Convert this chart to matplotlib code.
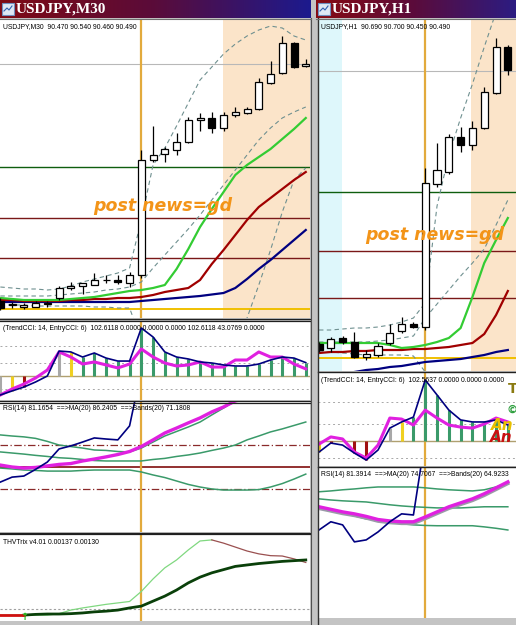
import numpy as np
import matplotlib
matplotlib.use('Agg')
import matplotlib.pyplot as plt
from matplotlib.patches import Rectangle

W, H = 516, 625

# ---------------- left window: USDJPY,M30 ----------------
m30_open = [89.546, 89.528, 89.522, 89.523, 89.535, 89.558, 89.597, 89.607, 89.610, 89.628, 89.630, 89.619, 89.650,
            90.110, 90.134, 90.150, 90.182, 90.270, 90.278, 90.238, 90.290, 90.298, 90.314, 90.418, 90.458, 90.578, 90.486]
m30_high = [89.558, 89.542, 89.539, 89.547, 89.547, 89.606, 89.623, 89.618, 89.658, 89.650, 89.650, 89.663, 90.150,
            90.246, 90.162, 90.218, 90.282, 90.298, 90.302, 90.302, 90.322, 90.322, 90.438, 90.506, 90.606, 90.582, 90.514]
m30_low = [89.510, 89.518, 89.514, 89.521, 89.523, 89.550, 89.590, 89.574, 89.608, 89.618, 89.614, 89.603, 89.638,
           90.102, 90.102, 90.130, 90.178, 90.226, 90.218, 90.226, 90.282, 90.294, 90.310, 90.414, 90.454, 90.478, 90.482]
m30_close = [89.518, 89.532, 89.530, 89.539, 89.538, 89.598, 89.607, 89.617, 89.630, 89.631, 89.623, 89.650, 90.110,
             90.130, 90.154, 90.182, 90.270, 90.279, 90.238, 90.290, 90.302, 90.314, 90.422, 90.454, 90.578, 90.482, 90.494]
m30_ma_green = [89.558, 89.554, 89.550, 89.550, 89.550, 89.550, 89.554, 89.558, 89.562, 89.570, 89.578, 89.586, 89.590,
                89.598, 89.610, 89.674, 89.754, 89.842, 89.914, 89.982, 90.050, 90.090, 90.122, 90.154, 90.194, 90.234, 90.278]
m30_ma_red = [89.550, 89.550, 89.546, 89.546, 89.546, 89.546, 89.550, 89.550, 89.554, 89.554, 89.558, 89.558, 89.562,
              89.570, 89.582, 89.590, 89.598, 89.630, 89.694, 89.750, 89.810, 89.870, 89.922, 89.958, 89.994, 90.030, 90.062]
m30_ma_navy = [89.542, 89.542, 89.542, 89.542, 89.542, 89.542, 89.542, 89.542, 89.542, 89.542, 89.542, 89.542, 89.546,
               89.550, 89.554, 89.558, 89.562, 89.566, 89.572, 89.578, 89.598, 89.634, 89.674, 89.710, 89.750, 89.790, 89.830]
m30_band_up = [89.602, 89.598, 89.594, 89.594, 89.590, 89.594, 89.606, 89.622, 89.634, 89.646, 89.658, 89.678, 89.870,
               90.090, 90.158, 90.246, 90.338, 90.430, 90.482, 90.534, 90.574, 90.606, 90.630, 90.646, 90.638, 90.606, 90.590]
m30_band_mid = [89.566, 89.566, 89.566, 89.566, 89.566, 89.570, 89.574, 89.578, 89.582, 89.590, 89.594, 89.602, 89.622,
                89.678, 89.730, 89.782, 89.834, 89.890, 89.950, 90.010, 90.070, 90.130, 90.190, 90.238, 90.278, 90.302, 90.322]
m30_band_low = [89.530, 89.530, 89.530, 89.526, 89.526, 89.526, 89.526, 89.526, 89.522, 89.522, 89.518, 89.518, 89.390,
                89.310, 89.230, 89.190, 89.170, 89.190, 89.230, 89.290, 89.370, 89.478, 89.610, 89.750, 89.902, 90.030, 90.078]
m30_levels_green = [90.082]
m30_levels_red = [89.878, 89.718]
m30_level_yellow = 89.514
m30_bid = 90.494

m30_cci_trend = [-146, -115, -85, -46, 0, 192, 185, 146, 177, 138, 115, 115, 369, 300, 185, 146, 131, 108, 100, 85,
                 77, 77, 92, 123, 146, 138, 103]
m30_cci_entry = [-146, -100, -62, -15, 46, 185, 146, 92, 108, 85, 62, 92, 208, 146, 100, 77, 85, 108, 69, 69, 123,
                 123, 185, 146, 146, 92, 55]
m30_hist_col = ['gray', 'yellow', 'red', 'none', 'none', 'gray', 'yellow'] + ['green'] * 20

m30_rsi = [43.0, 45.3, 45.8, 48.9, 52.3, 58.4, 59.8, 61.6, 63.5, 63.0, 62.6, 69.1, 95, 94, 93, 93, 94, 92, 88, 88,
           87, 86, 88, 89, 90, 85, 81.2]
m30_rsi_ma = [50.9, 50.0, 49.5, 49.8, 50.5, 51.2, 51.6, 52.8, 53.7, 54.7, 55.8, 57.2, 59.5, 62.6, 65.8, 68.1, 70.5,
              72.8, 75.6, 77.9, 80.7, 82.0, 83.0, 84.0, 85.0, 85.7, 86.2]
m30_rsi_band_a = [64.9, 64.4, 64.0, 63.3, 61.9, 60.2, 59.5, 58.8, 57.9, 57.7, 57.2, 57.0, 58.8, 61.6, 64.4, 66.5, 68.6,
                  70.9, 74.2, 77.4, 80.7, 83, 85, 87, 88, 89, 90]
m30_rsi_band_b = [57.0, 56.5, 56.0, 55.4, 54.9, 54.3, 54.0, 53.5, 53.0, 52.8, 52.8, 52.8, 52.8, 53.5, 54.0, 54.9, 55.6,
                  56.5, 57.7, 58.8, 60.2, 62.6, 64.4, 66.3, 67.7, 69.3, 70.9]
m30_rsi_band_c = [49.5, 49.1, 48.6, 48.4, 48.1, 48.1, 48.1, 48.4, 48.6, 48.6, 48.6, 48.6, 47.7, 46.3, 45.1, 43.5, 41.9,
                  40.7, 39.8, 39.3, 39.3, 39.3, 39.5, 40.7, 42.3, 44.4, 46.7]
m30_rsi_levels = [60, 50, 40]

m30_trix_main = [-0.00017, -0.00017, -0.00017, -0.00015, -0.00014, -0.00014, -0.00013, -0.00011, -0.00008, -0.00006,
                 -0.00003, 0.00003, 0.00008, 0.00022, 0.00036, 0.00053, 0.00073, 0.00089, 0.00101, 0.00110, 0.00119,
                 0.00123, 0.00127, 0.00130, 0.00133, 0.00135, 0.00137]
m30_trix_signal = [-0.00017, -0.00017, -0.00017, -0.00017, -0.00017, -0.00013, -0.00003, 0.00003, 0.00008, 0.00013,
                   0.00017, 0.00021, 0.00049, 0.00084, 0.00115, 0.00137, 0.00165, 0.00190, 0.00193, 0.00184, 0.00173,
                   0.00162, 0.00154, 0.00149, 0.00148, 0.00140, 0.00130]

# ---------------- right window: USDJPY,H1 ----------------
h1_open = [89.404, 89.388, 89.428, 89.412, 89.352, 89.360, 89.408, 89.456, 89.482, 89.472, 90.044, 90.092, 90.232,
           90.200, 90.268, 90.408, 90.592]
h1_high = [89.412, 89.432, 89.436, 89.452, 89.380, 89.408, 89.484, 89.512, 89.492, 90.108, 90.208, 90.244, 90.272,
           90.296, 90.432, 90.628, 90.600]
h1_low = [89.372, 89.372, 89.404, 89.348, 89.340, 89.352, 89.400, 89.448, 89.468, 89.460, 90.032, 90.084, 90.172,
          90.180, 90.264, 90.404, 90.480]
h1_close = [89.380, 89.424, 89.412, 89.352, 89.364, 89.396, 89.448, 89.484, 89.472, 90.048, 90.100, 90.232, 90.200,
            90.268, 90.412, 90.592, 90.500]
h1_ma_green = [89.408, 89.408, 89.408, 89.408, 89.408, 89.408, 89.400, 89.388, 89.392, 89.400, 89.412, 89.428, 89.468,
               89.592, 89.728, 89.820, 89.908]
h1_ma_red = [89.368, 89.372, 89.372, 89.376, 89.376, 89.380, 89.380, 89.380, 89.384, 89.384, 89.388, 89.392, 89.400,
             89.408, 89.444, 89.520, 89.616]
h1_ma_navy = [89.268, 89.276, 89.284, 89.292, 89.300, 89.304, 89.312, 89.316, 89.324, 89.332, 89.336, 89.340, 89.344,
              89.352, 89.360, 89.372, 89.380]
h1_band_up = [89.460, 89.460, 89.464, 89.468, 89.468, 89.472, 89.480, 89.492, 89.508, 89.568, 89.956, 90.160, 90.308,
              90.444, 90.592, 90.732, 90.860]
h1_band_mid = [89.412, 89.412, 89.412, 89.412, 89.412, 89.416, 89.420, 89.428, 89.436, 89.508, 89.564, 89.620, 89.676,
               89.728, 89.784, 89.880, 89.980]
h1_band_low = [89.372, 89.372, 89.368, 89.364, 89.360, 89.360, 89.360, 89.360, 89.356, 89.292, 89.260, 89.220, 89.200,
               89.200, 89.220, 89.240, 89.260]
h1_levels_green = [90.012]
h1_levels_red = [89.776, 89.588]
h1_level_yellow = 89.348
h1_bid = 90.496

h1_cci_trend = [-65, -12, -24, -71, -112, -53, 76, 112, 141, 359, 271, 182, 124, 112, 112, 124, 94]
h1_cci_entry = [-18, 24, 12, -65, -100, -24, 135, 129, 94, 182, 135, 94, 82, 76, 100, 135, 112]
h1_hist_col = ['yellow', 'red', 'none', 'red', 'red', 'none', 'gray', 'yellow'] + ['green'] * 9

h1_rsi = [57.7, 60.6, 59.5, 53.5, 54.2, 57.0, 60.6, 63.4, 63.0, 90, 89, 90, 86, 87, 89, 88, 81.4]
h1_rsi_ma = [65.9, 65.0, 64.1, 63.4, 62.5, 61.4, 60.9, 60.6, 60.6, 62.3, 64.1, 65.9, 67.3, 68.7, 70.5, 72.6, 74.7]
h1_rsi_band_a = [71.2, 71.5, 71.9, 72.2, 72.6, 72.9, 72.9, 72.9, 72.9, 72.6, 72.2, 71.9, 71.7, 71.5, 71.9, 72.9, 74.3]
h1_rsi_band_b = [68.7, 68.3, 68.0, 67.8, 67.6, 67.1, 66.6, 66.2, 65.9, 65.7, 65.5, 65.5, 65.5, 65.7, 65.9, 65.9, 65.9]
h1_rsi_band_c = [65.9, 64.8, 63.6, 62.7, 61.6, 61.3, 60.6, 59.9, 59.5, 59.3, 59.2, 59.2, 59.2, 59.2, 58.8, 58.3, 57.7]

NEWS_BAR_M30 = 12
NEWS_BAR_H1 = 9

COL = {'gray': '#a8a8a8', 'yellow': '#f0d020', 'red': '#a01010', 'green': '#3a9a6a', 'none': 'none'}
VLINE = '#e2aa3c'
PEACH = '#fbe4c9'

fig = plt.figure(figsize=(W / 100, H / 100), dpi=100)
fig.patch.set_facecolor('#c4c4c4')


def px_axes(x0, y0, x1, y1, z=1):
    ax = fig.add_axes([x0 / W, 1 - y1 / H, (x1 - x0) / W, (y1 - y0) / H], zorder=z)
    ax.set_xticks([])
    ax.set_yticks([])
    for s in ax.spines.values():
        s.set_visible(False)
    ax.set_facecolor('white')
    return ax


# background: title bars
bg = fig.add_axes([0, 0, 1, 1], zorder=0)
bg.set_xlim(0, W)
bg.set_ylim(H, 0)
bg.axis('off')
grad = np.linspace(0, 1, 256)[None, :]
cmap_l = matplotlib.colors.LinearSegmentedColormap.from_list('tb', ['#7e0a14', '#5a0c3a', '#1c1a8e'])
cmap_r = matplotlib.colors.LinearSegmentedColormap.from_list('tb2', ['#860a12', '#5a0c3c', '#2c1c82'])
bg.imshow(grad, cmap=cmap_l, extent=(0, 311, 18, 0), aspect='auto')
bg.imshow(grad, cmap=cmap_r, extent=(316, 516, 18, 0), aspect='auto')
bg.set_xlim(0, W)
bg.set_ylim(H, 0)
for x0 in (2, 318):
    bg.add_patch(Rectangle((x0, 3), 12, 12, facecolor='#dfe8f4', edgecolor='#7090c0', lw=0.8))
    bg.plot([x0 + 2, x0 + 5, x0 + 7, x0 + 10], [11, 8, 10, 6], color='#3060b0', lw=0.8)
bg.text(16, 9.5, 'USDJPY,M30', color='white', fontsize=11, fontweight='bold', family='Liberation Serif',
        va='center', ha='left')
bg.text(332, 9.5, 'USDJPY,H1', color='white', fontsize=11, fontweight='bold', family='Liberation Serif',
        va='center', ha='left')


def candles(ax, o, h, l, c):
    for i in range(len(o)):
        ax.vlines(i, l[i], h[i], color='black', lw=0.9, zorder=4)
        lo, hi = min(o[i], c[i]), max(o[i], c[i])
        face = 'white' if c[i] >= o[i] else 'black'
        ax.add_patch(Rectangle((i - 0.3, lo), 0.6, max(hi - lo, 0.0008), facecolor=face,
                               edgecolor='black', lw=0.9, zorder=5))


def main_chart(ax, o, h, l, c, green, red, navy, bup, bmid, blow, lv_g, lv_r, lv_y, bid, news):
    x = np.arange(len(o))
    for lv in lv_g:
        ax.axhline(lv, color='#0e5e0e', lw=1.0, zorder=1)
    for lv in lv_r:
        ax.axhline(lv, color='#7a1818', lw=1.0, zorder=1)
    ax.axhline(lv_y, color='#f0c000', lw=1.4, zorder=1)
    ax.axhline(bid, color='#b8b8b8', lw=0.8, zorder=1)
    ax.axvline(news, color=VLINE, lw=1.6, zorder=2)
    for b in (bup, bmid, blow):
        ax.plot(x, b, color='#6f9090', lw=0.8, dashes=(4, 3), zorder=3)
    ax.plot(x, navy, color='#000080', lw=1.6, zorder=3)
    ax.plot(x, red, color='#a00000', lw=1.6, zorder=3)
    ax.plot(x, green, color='#33cc33', lw=1.6, zorder=3)
    candles(ax, o, h, l, c)


def cci_panel(ax, trend, entry, cols, news, lo, hi):
    x = np.arange(len(trend))
    for lv in (230, 100, -100):
        ax.axhline(lv, color='#a8a8a8', lw=0.7, ls=(0, (2, 3)), zorder=1)
    ax.axhline(0, color='#b0a070', lw=1.0, zorder=1)
    ax.axvline(news, color=VLINE, lw=1.6, zorder=2)
    for i in x:
        if cols[i] != 'none':
            ax.vlines(i, 0, trend[i], color=COL[cols[i]], lw=2.2, zorder=3)
    ax.plot(x, entry, color='#e020e0', lw=2.2, zorder=4)
    ax.plot(x, trend, color='#000080', lw=1.2, zorder=5)
    ax.set_ylim(lo, hi)


# ---------------- left panels ----------------
ax1 = px_axes(0, 20, 310, 318)
ax1.axvspan(18.95, 30, color=PEACH, lw=0, zorder=0)
main_chart(ax1, m30_open, m30_high, m30_low, m30_close, m30_ma_green, m30_ma_red, m30_ma_navy,
           m30_band_up, m30_band_mid, m30_band_low, m30_levels_green, m30_levels_red, m30_level_yellow,
           m30_bid, NEWS_BAR_M30)
ax1.set_xlim(-0.03, 26.36)
ax1.set_ylim(89.478, 90.67)

ax2 = px_axes(0, 322, 310, 400)
cci_panel(ax2, m30_cci_trend, m30_cci_entry, m30_hist_col, NEWS_BAR_M30, -184.6, 415.4)
ax2.set_xlim(-0.03, 26.36)

ax3 = px_axes(0, 402, 310, 532)
x = np.arange(len(m30_rsi))
ax3.axhline(m30_rsi_levels[0], color='#8a2a2a', lw=0.9, dashes=(6, 2, 1, 2))
ax3.axhline(m30_rsi_levels[1], color='#8a2020', lw=1.3)
ax3.axhline(m30_rsi_levels[2], color='#8a2a2a', lw=0.9, dashes=(6, 2, 1, 2))
ax3.axvline(NEWS_BAR_M30, color=VLINE, lw=1.6)
for b in (m30_rsi_band_a, m30_rsi_band_b, m30_rsi_band_c):
    ax3.plot(x, b, color='#3a9a6a', lw=1.1)
ax3.plot(x, m30_rsi_ma, color='#e020e0', lw=2.4)
ax3.plot(x, m30_rsi, color='#000080', lw=1.2)
ax3.set_xlim(-0.03, 26.36)
ax3.set_ylim(19.8, 80.2)

ax4 = px_axes(0, 535, 310, 621)
x = np.arange(len(m30_trix_main))
ax4.axhline(0, color='#a0a0a0', lw=0.8, ls=(0, (2, 2)))
ax4.axvline(NEWS_BAR_M30, color=VLINE, lw=1.6)
peak = int(np.argmax(m30_trix_signal))
ax4.plot(x[:peak + 1], m30_trix_signal[:peak + 1], color='#80d880', lw=0.9)
ax4.plot(x[peak:], m30_trix_signal[peak:], color='#9a5050', lw=0.9)
ax4.plot(x[2:], m30_trix_main[2:], color='#0a400a', lw=2.0)
ax4.plot(x[:3], m30_trix_main[:3], color='#d01010', lw=2.0)
ax4.text(2, -0.00036, '↑', color='#20c020', fontsize=7, ha='center', va='bottom', fontweight='bold')
ax4.set_xlim(-0.03, 26.36)
ax4.set_ylim(-0.000335, 0.002067)

# ---------------- right panels ----------------
rx = (-0.085, 16.69)
ax5 = px_axes(318, 20, 516, 371)
ax5.axvspan(-1, 1.95, color='#def7fb', lw=0, zorder=0)
ax5.axvspan(12.85, 20, color=PEACH, lw=0, zorder=0)
main_chart(ax5, h1_open, h1_high, h1_low, h1_close, h1_ma_green, h1_ma_red, h1_ma_navy,
           h1_band_up, h1_band_mid, h1_band_low, h1_levels_green, h1_levels_red, h1_level_yellow,
           h1_bid, NEWS_BAR_H1)
ax5.set_xlim(*rx)
ax5.set_ylim(89.296, 90.70)

ax6 = px_axes(318, 373, 516, 466)
cci_panel(ax6, h1_cci_trend, h1_cci_entry, h1_hist_col, NEWS_BAR_H1, -147, 400)
ax6.set_xlim(*rx)

ax7 = px_axes(318, 468, 516, 618)
x = np.arange(len(h1_rsi))
ax7.axvline(NEWS_BAR_H1, color=VLINE, lw=1.6)
for b in (h1_rsi_band_a, h1_rsi_band_b, h1_rsi_band_c):
    ax7.plot(x, b, color='#3a9a6a', lw=1.1)
ax7.plot(x, np.array(h1_rsi_ma) - 0.6, color='#9a9aa8', lw=2.4)
ax7.plot(x, h1_rsi_ma, color='#e020e0', lw=2.4)
ax7.plot(x, h1_rsi, color='#000080', lw=1.2)
ax7.set_xlim(*rx)
ax7.set_ylim(26.6, 79.6)

# ---------------- overlay: separators and labels ----------------
ov = fig.add_axes([0, 0, 1, 1], zorder=10)
ov.set_xlim(0, W)
ov.set_ylim(H, 0)
ov.axis('off')
ov.patch.set_alpha(0)
for y in (319, 321, 400.5, 402.5):
    ov.plot([0, 310], [y, y], color='#202020', lw=0.9)
ov.plot([0, 310], [533.5, 533.5], color='#202020', lw=1.6)
for y in (372, 467):
    ov.plot([318, 516], [y, y], color='#202020', lw=1.0)
ov.plot([310.5, 310.5], [18, 625], color='#505050', lw=0.8)
ov.plot([317.5, 317.5], [18, 625], color='#303030', lw=1.0)
ov.plot([0, 311], [19, 19], color='#707070', lw=0.8)
ov.plot([316, 516], [19, 19], color='#707070', lw=0.8)

small = dict(fontsize=4.9, family='Liberation Sans', color='black', va='center', ha='left')
ov.text(3, 27, 'USDJPY,M30  90.470 90.540 90.460 90.490', **small)
ov.text(3, 329, '(TrendCCI: 14, EntryCCI: 6)  102.6118 0.0000 0.0000 0.0000 102.6118 43.0769 0.0000', **small)
ov.text(3, 409, 'RSI(14) 81.1654  ==>MA(20) 86.2405  ==>Bands(20) 71.1808', **small)
ov.text(3, 542, 'THVTrix v4.01 0.00137 0.00130', **small)
ov.text(321, 27, 'USDJPY,H1  90.690 90.700 90.450 90.490', **small)
ov.text(321, 381, '(TrendCCI: 14, EntryCCI: 6)  102.5637 0.0000 0.0000 0.0000', **small)
ov.text(321, 475, 'RSI(14) 81.3914  ==>MA(20) 74.7067  ==>Bands(20) 64.9233', **small)

news = dict(fontsize=12.5, fontweight='bold', style='italic', color='#f39418', family='DejaVu Sans',
            va='center', ha='left')
ov.text(93, 206, 'post news=gd', **news)
ov.text(365, 235, 'post news=gd', **news)

ov.text(508, 389, 'T', fontsize=10, fontweight='bold', color='#8a7a10', va='center', ha='left')
ov.text(507, 410, '©', fontsize=8, fontweight='bold', color='#30a040', va='center', ha='left')
ov.text(491, 425, 'An', fontsize=11, fontweight='bold', style='italic', color='#e8c000', va='center', ha='left')
ov.text(490, 438, 'An', fontsize=11, fontweight='bold', style='italic', color='#c81010', va='center', ha='left')

fig.savefig('out.png', dpi=100, facecolor=fig.get_facecolor())
